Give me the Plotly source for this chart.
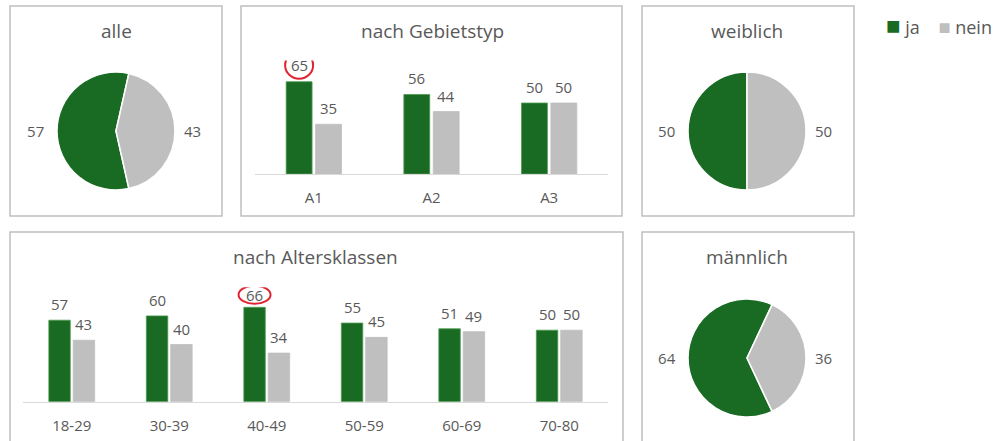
import plotly.graph_objects as go

W, H = 993, 441

ANTWORT = ["ja", "nein"]
FARBEN = {"ja": "#196B24", "nein": "#BFBFBF"}

ALLE = [57, 43]
WEIBLICH = [50, 50]
MAENNLICH = [64, 36]

GEBIETSTYP = ["A1", "A2", "A3"]
GEBIET_JA = [65, 56, 50]
GEBIET_NEIN = [35, 44, 50]

ALTERSKLASSEN = ["18-29", "30-39", "40-49", "50-59", "60-69", "70-80"]
ALTER_JA = [57, 60, 66, 55, 51, 50]
ALTER_NEIN = [43, 40, 34, 45, 49, 50]

TEXT = "#595959"
FONT = "Open Sans"
BARGAP = 0.5
NBSP = "\u00a0"


def fx(px):
    return px / W


def fy(py):
    return 1 - py / H


def add_pie(fig, values, cx, cy, r):
    fig.add_trace(go.Pie(
        labels=ANTWORT,
        values=values,
        sort=False,
        direction="clockwise",
        rotation=270 - 180 * values[0] / sum(values),
        marker=dict(colors=[FARBEN[a] for a in ANTWORT], line=dict(color="white", width=1.5)),
        texttemplate=["%{value}" + NBSP * 2, NBSP + "%{value}"],
        textposition="outside",
        textfont=dict(size=15, color=TEXT),
        domain=dict(x=[fx(cx - r), fx(cx + r)], y=[fy(cy + r), fy(cy - r)]),
        showlegend=False,
    ))


def add_bars(fig, cats, ja, nein, axis, circle):
    xa, ya = "x" + axis, "y" + axis
    half = (1 - BARGAP) / 4
    top = ja.index(max(ja))
    for name, vals, off in (("ja", ja, -half), ("nein", nein, half)):
        fig.add_trace(go.Bar(
            x=list(range(len(cats))), y=vals, name=name,
            marker=dict(color=FARBEN[name],
                        line=dict(color="#4E9A4E" if name == "ja" else FARBEN[name], width=0.8)),
            xaxis=xa, yaxis=ya, showlegend=False,
        ))
        for i, v in enumerate(vals):
            shift = circle[0] if (name == "ja" and i == top) else 16
            fig.add_annotation(text=str(v), xref=xa, yref=ya, x=i + off, y=v,
                               yshift=shift, yanchor="middle", showarrow=False,
                               font=dict(size=15, color=TEXT))
    # Rote Markierung des Höchstwerts
    dy, hw, hh = circle
    fig.add_shape(type="circle", xref=xa, yref=ya,
                  xsizemode="pixel", ysizemode="pixel",
                  xanchor=top - half, yanchor=ja[top],
                  x0=-hw, x1=hw, y0=dy - hh, y1=dy + hh,
                  line=dict(color="#E0242F", width=2))


fig = go.Figure()

add_pie(fig, ALLE, 116, 131, 59)
add_pie(fig, WEIBLICH, 747, 131, 59)
add_pie(fig, MAENNLICH, 747, 358, 59)

add_bars(fig, GEBIETSTYP, GEBIET_JA, GEBIET_NEIN, "", (16.5, 14, 13.5))
add_bars(fig, ALTERSKLASSEN, ALTER_JA, ALTER_NEIN, "2", (12.5, 16, 9))


def xaxis(cats, left, right, anchor):
    return dict(domain=[fx(left), fx(right)], anchor=anchor,
                tickmode="array", tickvals=list(range(len(cats))), ticktext=cats,
                range=[-0.5, len(cats) - 0.5],
                showgrid=False, zeroline=False, showline=True, linecolor="#D9D9D9",
                linewidth=1, ticks="", tickfont=dict(size=15, color=TEXT),
                ticklabelstandoff=10, fixedrange=True)


def yaxis(base, scale, anchor):
    return dict(domain=[fy(base), fy(base - scale * 80)], anchor=anchor,
                visible=False, range=[0, 80], fixedrange=True)


fig.update_layout(
    width=W, height=H,
    margin=dict(l=0, r=0, t=0, b=0),
    paper_bgcolor="white", plot_bgcolor="white",
    font=dict(family=FONT, color=TEXT),
    barmode="group", bargap=BARGAP, bargroupgap=0.12,
    xaxis=xaxis(GEBIETSTYP, 255, 608, "y"),
    yaxis=yaxis(174, 1.42, "x"),
    xaxis2=xaxis(ALTERSKLASSEN, 23, 608, "y2"),
    yaxis2=yaxis(401.7, 1.43, "x2"),
)

# Rahmen der Teilgrafiken
boxes = [(10, 6, 222, 216), (241, 6, 622, 216), (642, 6, 854, 216),
         (10, 232, 623, 450), (642, 232, 854, 450)]
for x0, y0, x1, y1 in boxes:
    fig.add_shape(type="rect", xref="paper", yref="paper",
                  x0=fx(x0), x1=fx(x1), y0=fy(y1), y1=fy(y0),
                  line=dict(color="#BFBFBF", width=1.5), layer="below")

# Titel
titles = [("alle", 116, 31), ("nach Gebietstyp", 432, 31), ("weiblich", 747, 31),
          ("nach Altersklassen", 315, 257), ("männlich", 747, 257)]
for text, x, y in titles:
    fig.add_annotation(text=text, xref="paper", yref="paper", x=fx(x), y=fy(y),
                       showarrow=False, font=dict(size=19, color=TEXT),
                       xanchor="center", yanchor="middle")

# Legende
fig.add_annotation(
    text=("<span style='color:#196B24;font-size:24px'>■</span> ja" + NBSP * 4
          + "<span style='color:#BFBFBF;font-size:20px'>■</span> nein"),
    xref="paper", yref="paper", x=fx(884), y=fy(25), xanchor="left", yanchor="middle",
    showarrow=False, font=dict(size=18, color=TEXT),
)

fig.write_html("out.html", config={"displayModeBar": False},
               post_script="document.body.style.margin='0';")
